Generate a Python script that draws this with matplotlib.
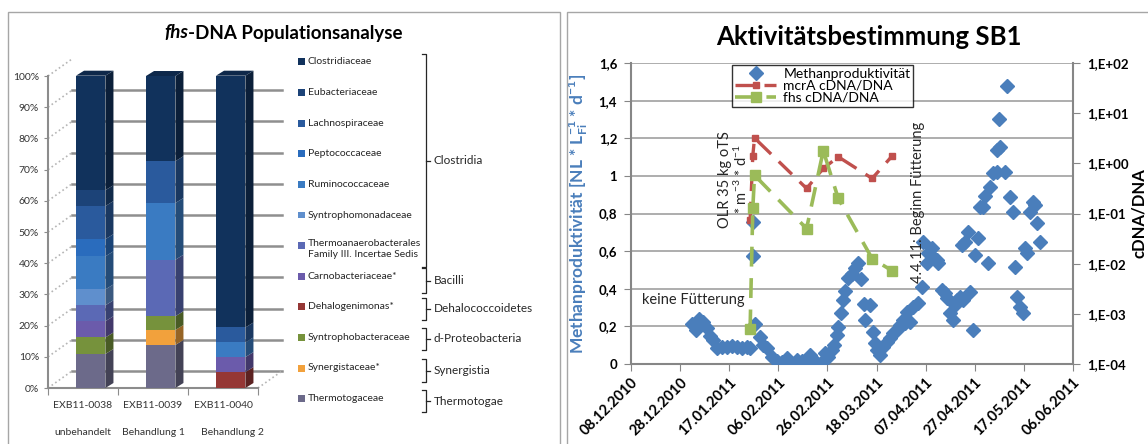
import numpy as np
import matplotlib
matplotlib.use("Agg")
import matplotlib.pyplot as plt
import matplotlib.dates as mdates
from matplotlib.patches import Polygon, Rectangle
from matplotlib.lines import Line2D
from matplotlib.ticker import FuncFormatter, LogLocator, NullLocator
from datetime import datetime, timedelta

plt.rcParams['font.family'] = ['Lato', 'DejaVu Sans']
plt.rcParams['mathtext.default'] = 'regular'

W, H = 1148, 444

# ---------------- Daten links: fhs-DNA Populationsanalyse ----------------
proben = ['EXB11-0038', 'EXB11-0039', 'EXB11-0040']
behandlung = ['unbehandelt', 'Behandlung 1', 'Behandlung 2']
# Reihenfolge von unten nach oben im Stapel
familien = ['Thermotogaceae', 'Synergistaceae*', 'Syntrophobacteraceae',
            'Dehalogenimonas*', 'Carnobacteriaceae*',
            'Thermoanaerobacterales\nFamily III. Incertae Sedis',
            'Syntrophomonadaceae', 'Ruminococcaceae', 'Peptococcaceae',
            'Lachnospiraceae', 'Eubacteriaceae', 'Clostridiaceae']
anteil_0038 = [10.9, 0.0, 5.3, 0.0, 5.2, 5.1, 5.1, 10.6, 5.5, 10.6, 5.1, 36.7]
anteil_0039 = [13.8, 4.8, 4.4, 0.0, 0.0, 18.1, 0.0, 18.2, 0.0, 13.4, 0.0, 27.3]
anteil_0040 = [0.0, 0.0, 0.0, 5.1, 4.8, 0.0, 0.0, 4.7, 0.0, 4.8, 0.0, 80.7]
farben = ['#6c6a8a', '#f2a13c', '#76923c', '#953735', '#6b5bab', '#5b69b5',
          '#5f8fcd', '#3a7bc2', '#2a6cbd', '#2a5a9d', '#1c4378', '#11325c']
klassen = ['Clostridia', 'Bacilli', 'Dehalococcoidetes', 'd-Proteobacteria',
           'Synergistia', 'Thermotogae']

# ---------------- Daten rechts: Aktivitätsbestimmung SB1 ----------------
start = datetime(2010, 12, 8)
ende = datetime(2011, 6, 6)
tage_meth = [24.7, 26.5, 27.8, 29.4, 30.8, 32.2, 33.5, 34.9, 36.9, 39, 41, 43,
             45, 47.1, 48.5, 49.5, 49.5, 50.5, 52.5, 53.9, 55.2, 57.3, 59.3,
             61.4, 63.4, 64.7, 67.5, 69.5, 71.5, 72.9, 74.2, 75.6, 77.6, 79,
             80.4, 81.7, 82.8, 83.7, 84.4, 85.4, 86.2, 87.2, 88.2, 89.9, 91.2,
             92.6, 93.5, 94.7, 95.3, 97.3, 98.7, 99.3, 100, 101.4, 102.7,
             104.1, 105.5, 106.8, 108.2, 109.5, 110.9, 111.6, 112.3, 113.6,
             115, 117, 118.4, 119, 120.4, 121.1, 122.4, 123.1, 124.5, 125.2,
             126.5, 127.9, 128.6, 129.9, 131.3, 132, 132.7, 134, 134.7, 135.4,
             136, 137.4, 138, 139.4, 140.1, 141.4, 142.1, 143.5, 144.1, 145.5,
             146.2, 147.6, 149, 149, 150, 150.2, 152.3, 153.2, 154.3, 155.7,
             156.4, 157, 158.4, 159.5, 160.4, 161.1, 162.5, 163.6, 164.5,
             165.2, 166.5]
methan = [0.21, 0.18, 0.24, 0.225, 0.19, 0.15, 0.127, 0.083, 0.088, 0.092,
          0.097, 0.088, 0.083, 0.088, 0.083, 0.575, 0.755, 0.21, 0.146, 0.10,
          0.083, 0.039, 0.018, 0.012, 0.03, 0.004, 0.021, 0.018, 0.021, 0.048,
          0.021, 0.004, 0.012, 0.057, 0.039, 0.074, 0.10, 0.154, 0.199, 0.27,
          0.34, 0.39, 0.456, 0.48, 0.51, 0.535, 0.45, 0.32, 0.234, 0.314,
          0.172, 0.11, 0.074, 0.048, 0.092, 0.119, 0.136, 0.163, 0.181, 0.207,
          0.234, 0.216, 0.278, 0.225, 0.305, 0.323, 0.41, 0.65, 0.535, 0.59,
          0.615, 0.57, 0.553, 0.535, 0.394, 0.376, 0.35, 0.27, 0.234, 0.314,
          0.34, 0.358, 0.633, 0.34, 0.65, 0.704, 0.385, 0.181, 0.58, 0.668,
          0.837, 0.837, 0.894, 0.535, 0.943, 1.014, 1.023, 1.138, 1.30, 1.156,
          1.02, 1.48, 0.89, 0.81, 0.518, 0.358, 0.305, 0.27, 0.615, 0.59,
          0.81, 0.863, 0.846, 0.748, 0.65]
tage_cdna = [48.5, 49.6, 50.3, 71.5, 78.3, 84.4, 98.2, 106.4]
mcra = [0.074, 1.41, 3.2, 0.316, 0.79, 1.35, 0.5, 1.41]
fhs = [4.9e-4, 0.126, 0.58, 0.05, 1.78, 0.2, 0.0126, 0.0072]


def fx(px):
    return px / W


def fy(py):
    return 1 - py / H


def dunkler(c, f=0.62):
    r, g, b = matplotlib.colors.to_rgb(c)
    return (r * f, g * f, b * f)


fig = plt.figure(figsize=(W / 100, H / 100), dpi=100)

# Rahmen der beiden Grafiken
for x0, x1 in [(8, 560), (567, 1152)]:
    fig.add_artist(Rectangle((fx(x0), fy(450)), fx(x1) - fx(x0), fy(12) - fy(450),
                             transform=fig.transFigure, fill=False,
                             edgecolor='#a6a6a6', lw=1))

# ================= linke Grafik =================
ax = fig.add_axes([fx(48), fy(388), (258 - 48) / W, (388 - 76) / H])
ax.set_xlim(-0.5, 2.5)
ax.set_ylim(0, 100)
for s in ['top', 'right', 'bottom']:
    ax.spines[s].set_visible(False)
ax.spines['left'].set_color('#8c8c8c')
ax.spines['left'].set_linewidth(1.5)
ax.set_facecolor('none')

# 3D Rueckwand
tx, ty = 0.343, 5.45
for v in range(0, 101, 10):
    ax.add_line(Line2D([-0.5, -0.5 + tx], [v, v + ty], color='#b5b5b5', lw=1.2,
                       ls=':', clip_on=False, zorder=1))
    if v < 100:
        ax.add_line(Line2D([-0.5 + tx, 2.5 + tx], [v + ty, v + ty], color='#8f8f8f',
                           lw=1.8, clip_on=False, zorder=1))
ax.add_line(Line2D([2.5, 2.5 + tx], [0, ty], color='#b5b5b5', lw=1.2, ls=':',
                   clip_on=False, zorder=1))
ax.add_line(Line2D([-0.5, 2.5], [0, 0], color='#8c8c8c', lw=1.5, clip_on=False, zorder=2))

xpos = np.arange(len(proben)) + 0.11
bw = 0.42
dx, dy = 0.115, 1.6
daten = np.array([anteil_0038, anteil_0039, anteil_0040]).T
boden = np.zeros(len(proben))
for i, fam in enumerate(familien):
    h = daten[i]
    ax.bar(xpos, h, bottom=boden, width=bw, color=farben[i], lw=0, zorder=3)
    for k in range(len(proben)):
        if h[k] <= 0:
            continue
        xr = xpos[k] + bw / 2
        y0, y1 = boden[k], boden[k] + h[k]
        ax.add_patch(Polygon([(xr, y0), (xr + dx, y0 + dy), (xr + dx, y1 + dy), (xr, y1)],
                             closed=True, color=dunkler(farben[i]), lw=0, zorder=3,
                             clip_on=False))
    boden = boden + h
for k in range(len(proben)):
    xl = xpos[k] - bw / 2
    top = boden[k]
    ax.add_patch(Polygon([(xl, top), (xl + dx, top + dy), (xl + bw + dx, top + dy),
                          (xl + bw, top)], closed=True, color=dunkler(farben[-1], 0.8),
                         lw=0, zorder=3, clip_on=False))

ax.set_yticks(range(0, 101, 10))
ax.yaxis.set_major_formatter(FuncFormatter(lambda v, p: f"{int(v)}%"))
ax.tick_params(axis='y', labelsize=7.5, length=3, color='#8c8c8c', labelcolor='#333333')
ax.set_xticks([-0.5, 0.5, 1.5, 2.5])
ax.set_xticklabels([])
ax.tick_params(axis='x', length=5, color='#8c8c8c')
for k in range(len(proben)):
    ax.text(k, -5.5, proben[k], ha='center', va='center', fontsize=7.5,
            color='#333333', clip_on=False)
    ax.text(k + (0.13 if k == 2 else 0), -14.3, behandlung[k], ha='center',
            va='center', fontsize=7.5, color='#333333', clip_on=False)

# Titel mit kursivem fhs
fig.text(fx(188), fy(33), 'fhs', ha='right', va='center', fontsize=13.5,
         fontweight='bold', style='italic')
fig.text(fx(188), fy(33), '-DNA Populationsanalyse', ha='left', va='center',
         fontsize=13.5, fontweight='bold')

# Legende links (von oben nach unten)
for j, fam in enumerate(familien[::-1]):
    yy = 62 + 30.6 * j
    farbe = farben[::-1][j]
    fig.add_artist(Rectangle((fx(298), fy(yy + 3.5)), 7 / W, 7 / H,
                             transform=fig.transFigure, color=farbe, lw=0))
    if '\n' in fam:
        fig.text(fx(308), fy(yy - 6.5), fam, ha='left', va='top', fontsize=7.5,
                 color='#262626', linespacing=1.25)
    else:
        fig.text(fx(308), fy(yy), fam, ha='left', va='center', fontsize=7.5,
                 color='#262626')

klammern = [(54, 267), (268, 293), (298, 320), (328, 350), (359, 382), (390, 412)]
for (a, b), name in zip(klammern, klassen):
    xk = 426
    fig.add_artist(Line2D([fx(xk - 4), fx(xk), fx(xk), fx(xk - 4)],
                          [fy(a), fy(a), fy(b), fy(b)], transform=fig.transFigure,
                          color='#262626', lw=0.9))
    m = (a + b) / 2
    fig.add_artist(Line2D([fx(xk), fx(xk + 4)], [fy(m), fy(m)],
                          transform=fig.transFigure, color='#262626', lw=0.9))
    fig.text(fx(xk + 8), fy(m), name, ha='left', va='center', fontsize=8.5,
             color='#262626')

# ================= rechte Grafik =================
ax2 = fig.add_axes([fx(631), fy(364), (1073 - 631) / W, (364 - 63) / H])
ax3 = ax2.twinx()
t0 = mdates.date2num(start)
x_meth = t0 + np.array(tage_meth)
x_cdna = t0 + np.array(tage_cdna)

h1, = ax2.plot(x_meth, methan, ls='none', marker='D', ms=7, color='#4a7ebb',
               mec='#4a7ebb', label='Methanproduktivität', zorder=3)
h2, = ax3.plot(x_cdna, mcra, color='#c0504d', lw=2.4, ls=(0, (5.5, 3.2)), marker='s',
               ms=5, label='mcrA cDNA/DNA', zorder=4)
h3, = ax3.plot(x_cdna, fhs, color='#9bbb59', lw=2.6, ls=(0, (5.5, 3.2)), marker='s',
               ms=7, label='fhs cDNA/DNA', zorder=4)

ax2.set_xlim(t0, mdates.date2num(ende))
ax2.set_ylim(0, 1.6)
ax2.set_yticks(np.arange(0, 1.61, 0.2))
ax2.yaxis.set_major_formatter(FuncFormatter(lambda v, p: f"{v:g}".replace('.', ',')))
ax2.set_xticks([mdates.date2num(start + timedelta(days=20 * k)) for k in range(10)])
ax2.xaxis.set_major_formatter(mdates.DateFormatter('%d.%m.%Y'))
ax2.grid(axis='y', color='#a0a0a0', lw=1.2)
ax2.set_axisbelow(True)
for s in ['left', 'bottom']:
    ax2.spines[s].set_color('#868686')
    ax2.spines[s].set_linewidth(1.5)
ax2.spines['top'].set_visible(False)
ax2.spines['right'].set_visible(False)
ax2.tick_params(axis='y', labelsize=9.5, length=5, color='#868686', pad=5)
ax2.tick_params(axis='x', labelsize=10.5, length=5, color='#868686', pad=3)
for lab in ax2.get_yticklabels() + ax2.get_xticklabels():
    lab.set_fontweight('bold')
for lab in ax2.get_xticklabels():
    lab.set_rotation(45)
    lab.set_ha('right')
    lab.set_rotation_mode('anchor')

ax3.set_yscale('log')
ax3.set_ylim(1e-4, 1e2)
ax3.yaxis.set_major_locator(LogLocator(base=10, numticks=10))
ax3.yaxis.set_minor_locator(NullLocator())
ax3.yaxis.set_major_formatter(FuncFormatter(
    lambda v, p: f"1,E{int(round(np.log10(v))):+03d}"))
for s in ['left', 'top', 'bottom']:
    ax3.spines[s].set_visible(False)
ax3.spines['right'].set_color('#868686')
ax3.spines['right'].set_linewidth(1.5)
ax3.tick_params(axis='y', labelsize=9.5, length=5, color='#868686', pad=5)
for lab in ax3.get_yticklabels():
    lab.set_fontweight('bold')

ax2.set_ylabel('Methanproduktivität [NL * L$_{Fi}^{-1}$ * d$^{-1}$]',
               fontsize=12.5, fontweight='bold', color='#4a7ebb', labelpad=6)
ax3.set_ylabel('cDNA/DNA', fontsize=12, fontweight='bold', labelpad=2)

fig.text(fx(869), fy(37), 'Aktivitätsbestimmung SB1', ha='center', va='center',
         fontsize=18.5, fontweight='bold')

ax2.text(t0 + 42, 0.98, 'OLR 35 kg oTS\n* m$^{-3}$ * d$^{-1}$', rotation=90,
         ha='center', va='center', fontsize=10.5, color='#262626',
         multialignment='center', linespacing=1.1)
ax2.text(t0 + 117, 0.86, '4.4.11: Beginn Fütterung', rotation=90, ha='center',
         va='center', fontsize=10.5, color='#262626')
ax2.text(t0 + 4.5, 0.34, 'keine Fütterung', ha='left', va='center', fontsize=10.5,
         color='#262626')

leg = ax3.legend([h1, h2, h3], [h1.get_label(), h2.get_label(), h3.get_label()],
                 loc='upper left', bbox_to_anchor=(fx(732), fy(65)),
                 bbox_transform=fig.transFigure, fontsize=10, frameon=True,
                 fancybox=False, edgecolor='black', borderpad=0.2,
                 handlelength=3.0, labelspacing=0.0, handletextpad=0.5,
                 borderaxespad=0)
leg.get_frame().set_linewidth(1)

fig.savefig('out.png', dpi=100)
